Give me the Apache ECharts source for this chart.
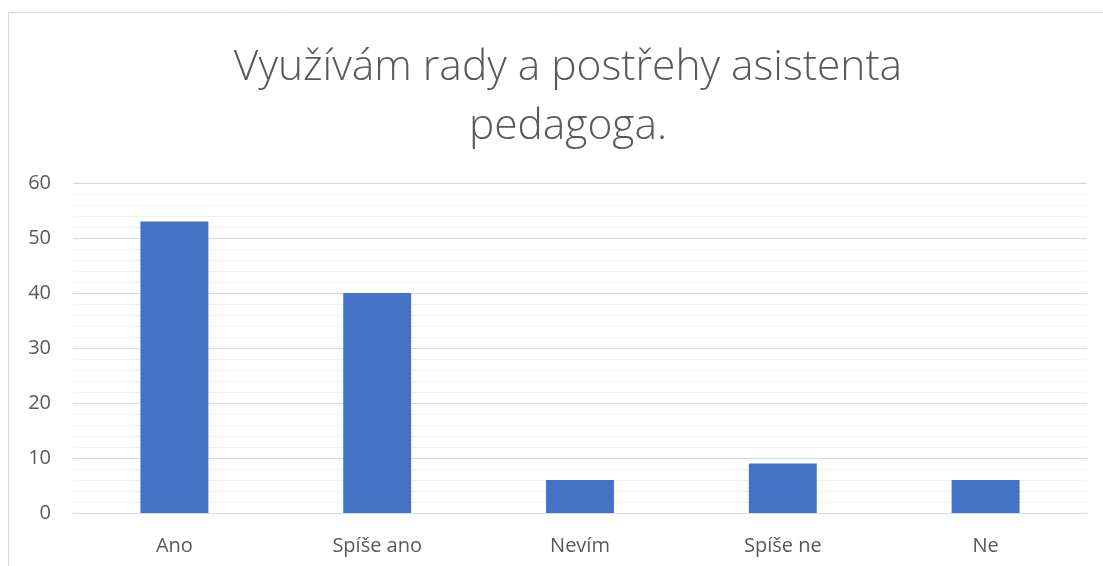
<!DOCTYPE html>
<html>
<head>
<meta charset="utf-8">
<script src="https://cdn.jsdelivr.net/npm/echarts@6/dist/echarts.min.js"></script>
<style>
  html, body { margin: 0; padding: 0; background: #fff; }
  #chart { width: 1103px; height: 566px; }
</style>
</head>
<body>
<div id="chart"></div>
<script>
// ===== 数据 =====
var categories = ['Ano', 'Spíše ano', 'Nevím', 'Spíše ne', 'Ne'];
var values = [53, 40, 6, 9, 6];
var titleText = 'Využívám rady a postřehy asistenta\npedagoga.';

var chart = echarts.init(document.getElementById('chart'));
chart.setOption({
    backgroundColor: '#fff',
    animation: false,
    title: {
        text: titleText,
        left: 563,
        top: 33,
        textAlign: 'center',
        textStyle: {
            fontFamily: 'Open Sans',
            fontWeight: 300,
            fontSize: 42.5,
            lineHeight: 59,
            color: '#595959'
        }
    },
    graphic: [{
        type: 'rect',
        shape: { x: 8.5, y: 12.5, width: 1200, height: 700 },
        style: { fill: 'none', stroke: '#d9d9d9', lineWidth: 1 },
        silent: true
    }],
    grid: { left: 73, right: 16, top: 183, bottom: 53 },
    xAxis: {
        type: 'category',
        data: categories,
        axisLine: { lineStyle: { color: '#d9d9d9' } },
        axisTick: { show: false },
        axisLabel: { color: '#595959', fontSize: 20, fontFamily: 'Open Sans', margin: 23 }
    },
    yAxis: {
        type: 'value',
        min: 0,
        max: 60,
        interval: 10,
        axisLine: { show: false },
        axisTick: { show: false },
        axisLabel: { color: '#595959', fontSize: 20, fontFamily: 'Open Sans', margin: 22 },
        splitLine: { lineStyle: { color: '#d9d9d9', width: 1 } },
        minorTick: { show: false, splitNumber: 5 },
        minorSplitLine: { show: true, lineStyle: { color: '#f0f0f0', width: 1 } }
    },
    series: [{
        type: 'bar',
        data: values,
        barWidth: '33.5%',
        itemStyle: { color: '#4472C4' }
    }]
});
</script>
</body>
</html>
